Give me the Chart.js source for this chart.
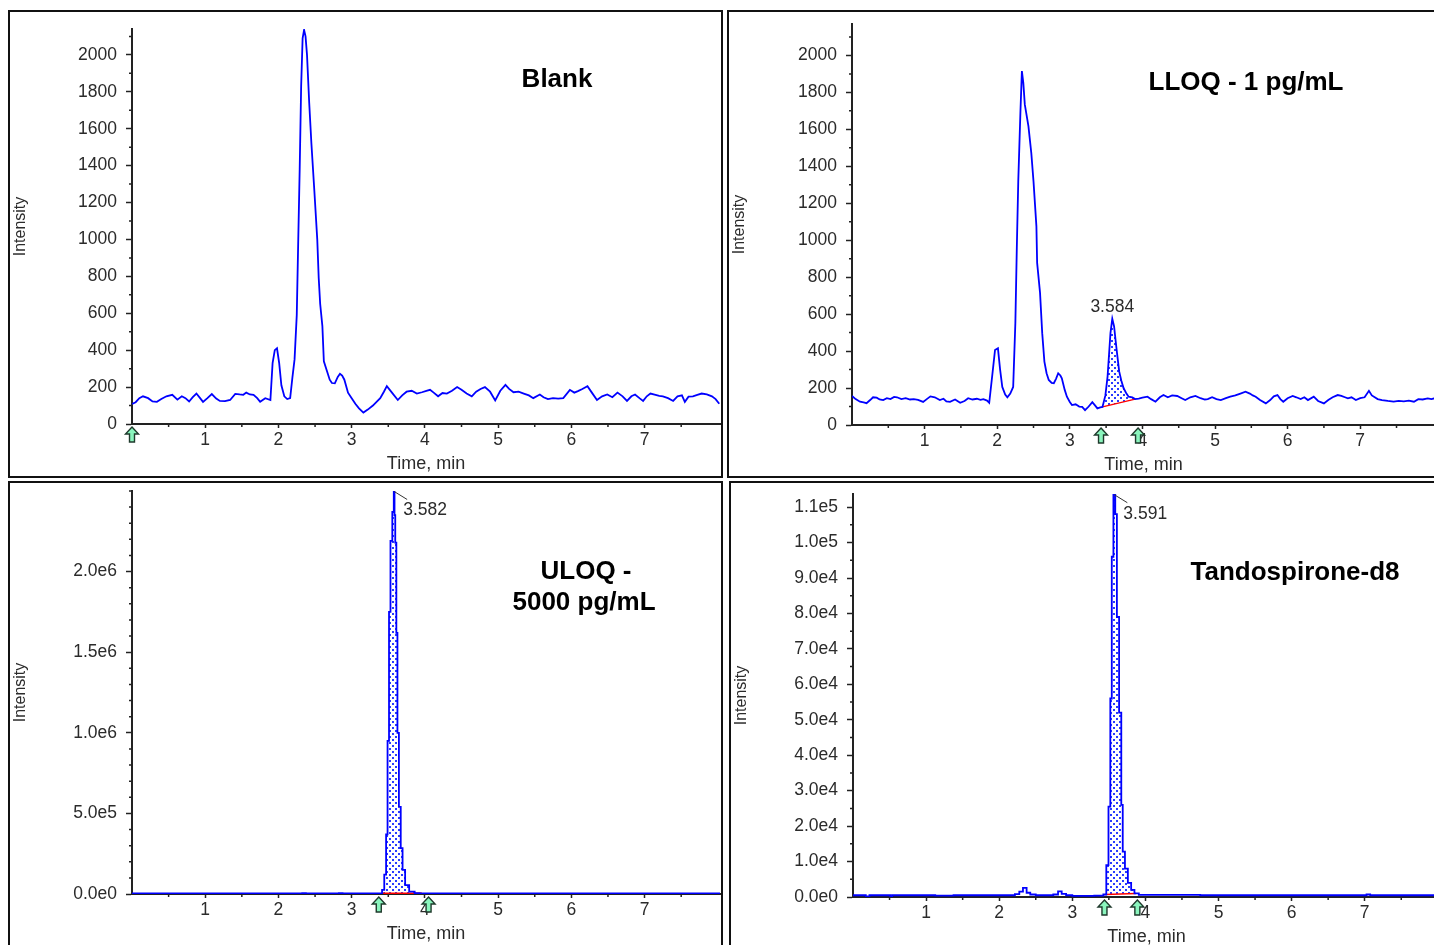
<!DOCTYPE html>
<html>
<head>
<meta charset="utf-8">
<script src="https://cdn.jsdelivr.net/npm/chart.js@4.4.1/dist/chart.umd.min.js"></script>
<style>
  html, body { margin: 0; padding: 0; background: #fff; }
  body { position: relative; width: 1434px; height: 945px; overflow: hidden; }
  canvas { position: absolute; }
  .frame { position: absolute; box-sizing: border-box; border: 2px solid #111; pointer-events: none; }
</style>
</head>
<body>
<div class="frame" style="left:8px;top:10px;width:715px;height:468px"></div>
<div class="frame" style="left:727px;top:10px;width:715px;height:468px"></div>
<div class="frame" style="left:8px;top:481px;width:715px;height:470px"></div>
<div class="frame" style="left:729px;top:481px;width:715px;height:470px"></div>
<canvas id="blank" width="715" height="470" style="left:8px;top:10px"></canvas>
<canvas id="lloq" width="715" height="470" style="left:727px;top:10px"></canvas>
<canvas id="uloq" width="715" height="470" style="left:8px;top:481px"></canvas>
<canvas id="d8" width="715" height="470" style="left:729px;top:481px"></canvas>
<script>
// shared axis ticks
const timeTicks = [1, 2, 3, 4, 5, 6, 7];
const countTicks = [0, 200, 400, 600, 800, 1000, 1200, 1400, 1600, 1800, 2000];
const uloqTicks = [0, 500000, 1000000, 1500000, 2000000];
const d8Ticks = [0, 10000, 20000, 30000, 40000, 50000, 60000, 70000, 80000, 90000, 100000, 110000];

// Blank
const blankTime = [
  0.00, 0.05, 0.10, 0.15, 0.22, 0.28, 0.34, 0.40, 0.47, 0.55,
  0.62, 0.68, 0.73, 0.78, 0.83, 0.88, 0.93, 0.97, 1.03, 1.09,
  1.15, 1.20, 1.27, 1.34, 1.41, 1.47, 1.52, 1.56, 1.61, 1.66,
  1.71, 1.75, 1.82, 1.89, 1.92, 1.95, 1.98, 2.01, 2.04, 2.08,
  2.12, 2.16, 2.19, 2.22, 2.25, 2.27, 2.29, 2.31, 2.33, 2.35,
  2.37, 2.39, 2.42, 2.45, 2.49, 2.53, 2.55, 2.57, 2.60, 2.62,
  2.66, 2.70, 2.73, 2.77, 2.81, 2.84, 2.87, 2.90, 2.95, 3.00,
  3.05, 3.10, 3.16, 3.22, 3.29, 3.34, 3.39, 3.44, 3.48, 3.55,
  3.63, 3.69, 3.75, 3.82, 3.89, 3.96, 4.02, 4.07, 4.12, 4.18,
  4.24, 4.30, 4.37, 4.44, 4.50, 4.57, 4.64, 4.70, 4.76, 4.82,
  4.89, 4.96, 5.03, 5.10, 5.15, 5.21, 5.28, 5.35, 5.42, 5.48,
  5.57, 5.62, 5.68, 5.75, 5.82, 5.89, 5.98, 6.04, 6.09, 6.15,
  6.22, 6.28, 6.35, 6.42, 6.49, 6.56, 6.63, 6.70, 6.76, 6.82,
  6.87, 6.93, 6.98, 7.03, 7.08, 7.15, 7.20, 7.25, 7.32, 7.39,
  7.45, 7.51, 7.55, 7.60, 7.66, 7.72, 7.78, 7.85, 7.92, 7.97,
  8.02
];
const blankIntensity = [
  108, 118, 140, 150, 140, 122, 120, 135, 150, 158,
  132, 150, 140, 122, 145, 165, 140, 120, 140, 162,
  138, 125, 124, 130, 163, 160, 158, 170, 160, 158,
  140, 120, 140, 130, 330, 400, 410, 330, 210, 150,
  135, 140, 250, 350, 590, 990, 1380, 1830, 2090, 2135,
  2100, 2000, 1740, 1520, 1265, 1000, 790, 650, 530, 340,
  290, 240, 222, 220, 255, 272, 262, 240, 170, 140,
  110, 85, 62, 78, 100, 120, 140, 175, 205, 170,
  130, 155, 175, 180, 165, 172, 180, 185, 170, 150,
  168, 165, 180, 200, 185, 165, 150, 175, 190, 200,
  175, 128, 180, 212, 190, 172, 175, 165, 155, 140,
  160, 145, 135, 140, 138, 140, 185, 170, 178, 190,
  205, 170, 130, 150, 160, 145, 170, 150, 125, 150,
  160, 140, 125, 150, 165, 158, 152, 150, 140, 125,
  150, 155, 120, 148, 150, 158, 165, 160, 150, 135,
  110
];
const blankArrows = [0];

// LLOQ - 1 pg/mL
const lloqTime = [
  0.00, 0.05, 0.11, 0.16, 0.20, 0.25, 0.29, 0.34, 0.38, 0.43,
  0.48, 0.53, 0.58, 0.62, 0.68, 0.74, 0.80, 0.85, 0.91, 0.98,
  1.03, 1.08, 1.14, 1.21, 1.26, 1.30, 1.35, 1.42, 1.49, 1.55,
  1.60, 1.66, 1.72, 1.77, 1.81, 1.86, 1.89, 1.93, 1.97, 2.01,
  2.04, 2.07, 2.11, 2.14, 2.18, 2.22, 2.25, 2.27, 2.29, 2.32,
  2.34, 2.36, 2.38, 2.43, 2.47, 2.50, 2.54, 2.55, 2.59, 2.62,
  2.65, 2.68, 2.71, 2.75, 2.78, 2.81, 2.84, 2.87, 2.89, 2.93,
  2.96, 3.00, 3.03, 3.08, 3.13, 3.17, 3.21, 3.26, 3.31, 3.35,
  3.38, 3.42, 3.45, 3.49, 3.52, 3.54, 3.56, 3.585, 3.61, 3.63,
  3.65, 3.68, 3.71, 3.74, 3.78, 3.81, 3.86, 3.90, 3.95, 4.00,
  4.07, 4.12, 4.18, 4.24, 4.29, 4.35, 4.41, 4.48, 4.54, 4.59,
  4.66, 4.73, 4.80, 4.86, 4.90, 4.96, 5.02, 5.08, 5.15, 5.21,
  5.28, 5.35, 5.42, 5.48, 5.52, 5.56, 5.62, 5.70, 5.76, 5.81,
  5.86, 5.90, 5.94, 6.00, 6.07, 6.12, 6.18, 6.23, 6.28, 6.36,
  6.42, 6.50, 6.56, 6.62, 6.69, 6.74, 6.79, 6.83, 6.88, 6.94,
  7.00, 7.06, 7.12, 7.16, 7.20, 7.24, 7.30, 7.38, 7.46, 7.53,
  7.60, 7.67, 7.74, 7.80, 7.86, 7.93, 7.98, 8.03
];
const lloqIntensity = [
  157, 140, 126, 122, 118, 135, 150, 148, 138, 135,
  145, 140, 152, 150, 140, 145, 138, 140, 136, 125,
  140, 155, 150, 135, 142, 128, 125, 138, 120, 130,
  145, 138, 142, 136, 140, 132, 120, 262, 406, 415,
  300, 206, 165, 150, 170, 206, 552, 958, 1318, 1697,
  1915, 1850, 1735, 1617, 1470, 1318, 1075, 877, 715, 497,
  343, 280, 244, 228, 226, 250, 280, 268, 253, 190,
  153, 125, 108, 112, 100, 98, 80, 100, 124, 105,
  90, 95, 98, 160, 262, 380, 497, 575, 533, 460,
  390, 290, 240, 200, 170, 153, 150, 140, 143, 148,
  153, 140, 126, 150, 162, 150, 160, 157, 145, 135,
  150, 157, 145, 138, 140, 150, 140, 135, 145, 153,
  160, 170, 180, 170, 160, 153, 135, 117, 135, 155,
  162, 140, 126, 145, 157, 150, 140, 150, 135, 153,
  130, 117, 135, 150, 162, 158, 150, 144, 150, 135,
  145, 150, 185, 160, 150, 140, 135, 130, 126, 130,
  128, 132, 126, 140, 138, 144, 140, 145
];
const lloqWindow = [3.45, 3.90];
const lloqBaseline = [98, 140];
const lloqArrows = [3.43, 3.94];

// ULOQ - 5000 pg/mL
const uloqTime = [
  0, 0.5, 1.0, 1.5, 2.0, 2.3, 2.35, 2.4,
  2.8, 2.85, 2.9, 3.2, 3.40,
  3.43, 3.46, 3.48, 3.50, 3.52, 3.54, 3.57, 3.58, 3.59, 3.60,
  3.62, 3.63, 3.66, 3.68, 3.71, 3.75, 3.82, 3.90, 3.96,
  4.5, 5.0, 6.0, 7.0, 8.03
];
const uloqIntensity = [
  4000, 4000, 4000, 4000, 4000, 4000, 6000, 4000,
  4000, 5000, 4000, 4000, 4000,
  25000, 120000, 370000, 950000, 1750000, 2190000, 2370000, 2497000, 2350000, 2180000,
  1620000, 1000000, 540000, 285000, 150000, 55000, 15000, 6000, 4000,
  4000, 4000, 4000, 4000, 4000
];
const uloqWindow = [3.43, 3.96];
const uloqBaseline = [4000, 4000];
const uloqArrows = [3.37, 4.05];

// Tandospirone-d8
const d8Time = [
  0, 0.15, 0.20, 0.25, 0.50, 0.52, 0.55, 1.0, 1.25, 1.5,
  2.0, 2.18, 2.25, 2.30, 2.35, 2.40, 2.45, 2.55, 2.70, 2.78,
  2.83, 2.88, 2.95, 3.05, 3.20, 3.40, 3.45, 3.48, 3.51, 3.53,
  3.55, 3.575, 3.60, 3.62, 3.66, 3.68, 3.70, 3.74, 3.78, 3.83,
  3.87, 3.95, 4.5, 5.0, 6.0, 7.0, 7.05, 7.1, 8.03
];
const d8Intensity = [
  500, 500, 200, 500, 500, 0, 500, 500, 400, 500,
  500, 500, 800, 1500, 2600, 1200, 700, 500, 500, 700,
  1600, 900, 500, 300, 300, 400, 700, 9000, 25500, 56000,
  96000, 113500, 108000, 79000, 52000, 26000, 12800, 8000, 4000, 2000,
  1000, 600, 600, 500, 500, 500, 700, 500, 500
];
const d8Window = [3.45, 3.87];
const d8Baseline = [700, 1000];
const d8Arrows = [3.44, 3.89];

const FONT = '"Liberation Sans", Arial, sans-serif';
const INK = '#2b2b2b';

// dotted fill used for the integrated peak area
const dots = document.createElement('canvas');
dots.width = 6;
dots.height = 6;
const dctx = dots.getContext('2d');
dctx.fillStyle = '#2a3cff';
dctx.fillRect(0, 0, 2, 2);
dctx.fillRect(3, 3, 2, 2);

const chromMarks = {
  id: 'chromMarks',
  afterDraw(chart, args, o) {
    const {ctx, chartArea: a, scales: {x, y}} = chart;
    ctx.save();

    // minor ticks
    ctx.strokeStyle = '#222';
    ctx.lineWidth = 1.5;
    ctx.beginPath();
    for (let i = 1; i * o.minorY <= y.max; i++) {
      const v = i * o.minorY;
      if (y.ticks.some(t => Math.abs(t.value - v) < y.max * 1e-6)) continue;
      const py = y.getPixelForValue(v);
      ctx.moveTo(a.left - 3, py);
      ctx.lineTo(a.left, py);
    }
    for (let i = 1; i * 0.5 <= x.max; i += 2) {
      const px = x.getPixelForValue(i * 0.5);
      ctx.moveTo(px, a.bottom);
      ctx.lineTo(px, a.bottom + 3);
    }
    ctx.stroke();

    // sample titles
    ctx.fillStyle = '#000';
    ctx.font = 'bold 26px ' + FONT;
    ctx.textAlign = 'center';
    ctx.textBaseline = 'alphabetic';
    o.titles.forEach(t => ctx.fillText(t.text, t.x, t.y));

    // retention time label at the apex of the integrated peak
    if (o.window) {
      let top = null;
      chart.data.datasets[0].data.forEach(p => {
        if (p.x >= o.window[0] && p.x <= o.window[1] && (!top || p.y > top.y)) top = p;
      });
      const px = x.getPixelForValue(top.x);
      const py = y.getPixelForValue(top.y);
      ctx.font = '17.5px ' + FONT;
      ctx.fillStyle = INK;
      if (o.leader) {
        ctx.strokeStyle = '#333';
        ctx.lineWidth = 1;
        ctx.beginPath();
        ctx.moveTo(px, py);
        ctx.lineTo(px + 13, py + 8);
        ctx.stroke();
        ctx.textAlign = 'left';
        ctx.fillText(o.peakLabel, px + 9, py + 24);
      } else {
        ctx.textAlign = 'center';
        ctx.fillText(o.peakLabel, px, py - 7);
      }
    }

    // integration markers under the axis
    o.arrows.forEach(t => {
      const ax = x.getPixelForValue(t);
      const ay = a.bottom + 3;
      ctx.beginPath();
      ctx.moveTo(ax, ay);
      ctx.lineTo(ax + 6.5, ay + 7);
      ctx.lineTo(ax + 2.5, ay + 7);
      ctx.lineTo(ax + 2.5, ay + 15);
      ctx.lineTo(ax - 2.5, ay + 15);
      ctx.lineTo(ax - 2.5, ay + 7);
      ctx.lineTo(ax - 6.5, ay + 7);
      ctx.closePath();
      ctx.fillStyle = '#8af5bd';
      ctx.fill();
      ctx.strokeStyle = '#1f3a2c';
      ctx.lineWidth = 1.4;
      ctx.stroke();
    });
    ctx.restore();
  }
};

function chromChart(id, cfg) {
  const trace = cfg.time.map((t, i) => ({x: t, y: cfg.intensity[i]}));
  const datasets = [{
    data: trace,
    borderColor: '#0000ff',
    borderWidth: 1.8,
    pointRadius: 0,
    stepped: cfg.stepped || false,
    fill: false
  }];
  if (cfg.window) {
    datasets.push({
      data: [{x: cfg.window[0], y: cfg.baseline[0]}, {x: cfg.window[1], y: cfg.baseline[1]}],
      borderColor: '#ff0000',
      borderWidth: 1.5,
      pointRadius: 0,
      fill: false
    });
    datasets.push({
      data: trace.filter(p => p.x >= cfg.window[0] && p.x <= cfg.window[1]),
      borderWidth: 0,
      pointRadius: 0,
      stepped: cfg.stepped || false,
      backgroundColor: c => c.chart.ctx.createPattern(dots, 'repeat'),
      fill: {target: 1}
    });
  }

  new Chart(document.getElementById(id), {
    type: 'line',
    data: {datasets},
    options: {
      responsive: false,
      animation: false,
      events: [],
      layout: {padding: cfg.pad},
      plugins: {
        legend: {display: false},
        tooltip: {enabled: false},
        chromMarks: {
          titles: cfg.titles,
          window: cfg.window,
          peakLabel: cfg.peakLabel,
          leader: cfg.leader,
          arrows: cfg.arrows,
          minorY: cfg.minorY
        }
      },
      scales: {
        x: {
          type: 'linear',
          min: 0,
          max: 8.03,
          afterBuildTicks: s => { s.ticks = timeTicks.map(v => ({value: v})); },
          afterFit: s => { s.height = 52; s.paddingLeft = 0; s.paddingRight = 0; },
          border: {color: '#222', width: 2},
          grid: {drawOnChartArea: false, tickLength: 4, tickColor: '#222', tickWidth: 1.5},
          ticks: {padding: 2, color: INK, font: {family: FONT, size: 17.5}, maxRotation: 0},
          title: {display: true, text: 'Time, min', color: INK, font: {family: FONT, size: 18}, padding: {top: 0, bottom: 1}}
        },
        y: {
          type: 'linear',
          min: 0,
          max: cfg.yMax,
          afterBuildTicks: s => { s.ticks = cfg.yTicks.map(v => ({value: v})); },
          afterFit: s => { s.width = cfg.yWidth; s.paddingTop = 0; s.paddingBottom = 0; },
          border: {color: '#222', width: 2},
          grid: {drawOnChartArea: false, tickLength: 6, tickColor: '#222', tickWidth: 1.5},
          ticks: {padding: 9, color: INK, font: {family: FONT, size: 17.5}, callback: cfg.fmt},
          title: {display: true, text: 'Intensity', color: INK, font: {family: FONT, size: 16}, padding: {top: 3, bottom: 0}}
        }
      }
    },
    plugins: [chromMarks]
  });
}

const plain = v => String(v);
const expo = v => v.toExponential(1).replace('+', '');

chromChart('blank', {
  time: blankTime, intensity: blankIntensity,
  yMax: 2140, yTicks: countTicks, minorY: 100, fmt: plain, yWidth: 124,
  pad: {left: 0, top: 19, right: 3, bottom: 4},
  titles: [{text: 'Blank', x: 549, y: 77}],
  arrows: blankArrows
});

chromChart('lloq', {
  time: lloqTime, intensity: lloqIntensity,
  yMax: 2170, yTicks: countTicks, minorY: 100, fmt: plain, yWidth: 125,
  pad: {left: 0, top: 14, right: 7, bottom: 3},
  titles: [{text: 'LLOQ - 1 pg/mL', x: 519, y: 80}],
  window: lloqWindow, baseline: lloqBaseline, peakLabel: '3.584', leader: false,
  arrows: lloqArrows
});

chromChart('uloq', {
  time: uloqTime, intensity: uloqIntensity, stepped: 'middle',
  yMax: 2500000, yTicks: uloqTicks, minorY: 100000, fmt: expo, yWidth: 124,
  pad: {left: 0, top: 10, right: 3, bottom: 5},
  titles: [{text: 'ULOQ -', x: 578, y: 98}, {text: '5000 pg/mL', x: 576, y: 129}],
  window: uloqWindow, baseline: uloqBaseline, peakLabel: '3.582', leader: true,
  arrows: uloqArrows
});

chromChart('d8', {
  time: d8Time, intensity: d8Intensity, stepped: 'middle',
  yMax: 113700, yTicks: d8Ticks, minorY: 5000, fmt: expo, yWidth: 124,
  pad: {left: 0, top: 13, right: 4, bottom: 2},
  titles: [{text: 'Tandospirone-d8', x: 566, y: 99}],
  window: d8Window, baseline: d8Baseline, peakLabel: '3.591', leader: true,
  arrows: d8Arrows
});
</script>
</body>
</html>
